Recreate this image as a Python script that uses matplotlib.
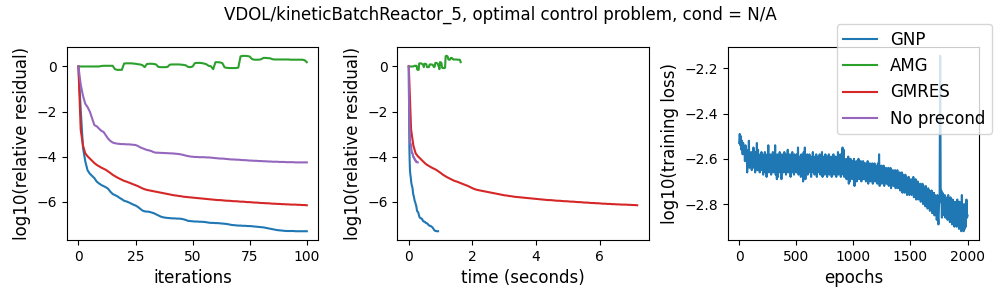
import numpy as np
import matplotlib
matplotlib.use("Agg")
import matplotlib.pyplot as plt
from matplotlib.ticker import MultipleLocator

title = "VDOL/kineticBatchReactor_5, optimal control problem, cond = N/A"
methods = ["GNP", "AMG", "GMRES", "No precond"]
colors = ["tab:blue", "tab:green", "tab:red", "tab:purple"]

# log10 relative residual per iteration (0..100)
gnp = [0, -1.9, -3.6, -4.2, -4.6, -4.75, -4.85, -4.95, -5.1, -5.18,
       -5.25, -5.3, -5.35, -5.42, -5.55, -5.65, -5.7, -5.75, -5.82, -5.88,
       -5.95, -5.98, -6.02, -6.07, -6.12, -6.16, -6.22, -6.3, -6.38, -6.42,
       -6.43, -6.44, -6.47, -6.5, -6.55, -6.6, -6.65, -6.68, -6.7, -6.71,
       -6.72, -6.73, -6.73, -6.74, -6.74, -6.75, -6.77, -6.8, -6.84, -6.85,
       -6.86, -6.87, -6.87, -6.88, -6.88, -6.89, -6.9, -6.92, -6.93, -6.93,
       -6.94, -6.94, -6.95, -6.96, -6.97, -6.98, -7.0, -7.02, -7.03, -7.04,
       -7.05, -7.05, -7.06, -7.06, -7.07, -7.07, -7.08, -7.09, -7.1, -7.11,
       -7.12, -7.13, -7.15, -7.17, -7.19, -7.21, -7.23, -7.25, -7.26, -7.27,
       -7.28, -7.29, -7.29, -7.29, -7.29, -7.3, -7.3, -7.3, -7.3, -7.3, -7.3]
amg = [0, 0, 0, 0, 0, 0, 0, 0, 0, 0,
       0.02, 0.03, 0.03, 0.03, 0.03, 0.03,
       -0.12, -0.15, -0.15, -0.15,
       0.13, 0.14, 0.14, 0.14, 0.13, 0.12, 0.10, 0.09, 0.06,
       -0.03,
       0.11, 0.12, 0.12, 0.11, 0.09,
       -0.02, -0.03, -0.03, -0.03, -0.02,
       0.08, 0.09, 0.09, 0.09, 0.09, 0.08, 0.07, 0.05,
       -0.02, -0.03, 0.0,
       0.15, 0.16, 0.16, 0.15, 0.13, 0.10,
       0.03, 0.01, -0.12,
       0.19, 0.19, 0.18, 0.15,
       -0.04, -0.06, -0.07, -0.07, -0.07, -0.07, -0.05,
       0.45, 0.47, 0.47, 0.46, 0.44,
       0.33, 0.30, 0.30, 0.30, 0.32,
       0.38, 0.38, 0.37, 0.36,
       0.32, 0.31, 0.31, 0.31, 0.31, 0.31, 0.31, 0.31, 0.30, 0.30,
       0.30, 0.30, 0.30, 0.30, 0.28,
       0.19]
gmres = [0, -2.8, -3.5, -3.85, -3.98, -4.08, -4.18, -4.28, -4.36, -4.42,
         -4.48, -4.53, -4.58, -4.65, -4.72, -4.8, -4.86, -4.92, -4.97, -5.02,
         -5.07, -5.1, -5.14, -5.18, -5.22, -5.26, -5.3, -5.35, -5.4, -5.44,
         -5.47, -5.49, -5.51, -5.53, -5.55, -5.57, -5.59, -5.61, -5.63, -5.65,
         -5.67, -5.69, -5.71, -5.72, -5.74, -5.75, -5.77, -5.78, -5.79, -5.8,
         -5.81, -5.82, -5.83, -5.84, -5.85, -5.86, -5.87, -5.88, -5.89, -5.9,
         -5.91, -5.92, -5.92, -5.93, -5.94, -5.95, -5.95, -5.96, -5.97, -5.97,
         -5.98, -5.99, -5.99, -6.0, -6.01, -6.01, -6.02, -6.03, -6.03, -6.04,
         -6.05, -6.05, -6.06, -6.06, -6.07, -6.08, -6.08, -6.09, -6.09, -6.1,
         -6.1, -6.11, -6.11, -6.12, -6.12, -6.12, -6.13, -6.13, -6.14, -6.14, -6.15]
noprec = [0, -0.8, -1.3, -1.65, -1.8, -2.0, -2.3, -2.6, -2.65, -2.75,
          -2.85, -2.9, -3.05, -3.2, -3.3, -3.37, -3.4, -3.42, -3.43, -3.44,
          -3.44, -3.45, -3.45, -3.46, -3.47, -3.48, -3.52, -3.58, -3.62, -3.66,
          -3.7, -3.72, -3.75, -3.8, -3.82, -3.82, -3.83, -3.83, -3.84, -3.84,
          -3.85, -3.85, -3.86, -3.87, -3.88, -3.9, -3.92, -3.95, -3.97, -3.99,
          -4.0, -4.01, -4.01, -4.02, -4.02, -4.02, -4.03, -4.03, -4.04, -4.05,
          -4.06, -4.07, -4.08, -4.08, -4.09, -4.1, -4.11, -4.12, -4.12, -4.13,
          -4.13, -4.14, -4.15, -4.15, -4.16, -4.17, -4.17, -4.18, -4.18, -4.19,
          -4.19, -4.2, -4.2, -4.21, -4.21, -4.22, -4.22, -4.22, -4.23, -4.23,
          -4.23, -4.24, -4.24, -4.24, -4.24, -4.25, -4.25, -4.25, -4.25, -4.25, -4.25]

# wall-clock seconds per iteration for each method
sec_per_iter = [0.0092, 0.0163, 0.0718, 0.0028]

# log10 training loss, sampled every 5 epochs
loss_epoch_step = 5
loss = [
    -2.53, -2.49, -2.54, -2.50, -2.56, -2.52, -2.58, -2.53, -2.57, -2.55, -2.61, -2.54, -2.60, -2.56, -2.66, -2.57, -2.62, -2.52, -2.64, -2.58,
    -2.63, -2.57, -2.65, -2.58, -2.62, -2.55, -2.64, -2.59, -2.66, -2.57, -2.63, -2.53, -2.65, -2.56, -2.64, -2.60, -2.66, -2.58, -2.63, -2.57,
    -2.65, -2.58, -2.67, -2.59, -2.64, -2.57, -2.66, -2.60, -2.68, -2.58, -2.64, -2.54, -2.66, -2.59, -2.65, -2.58, -2.67, -2.60, -2.64, -2.57,
    -2.66, -2.59, -2.65, -2.54, -2.67, -2.60, -2.69, -2.58, -2.68, -2.59, -2.65, -2.57, -2.66, -2.60, -2.69, -2.58, -2.64, -2.59, -2.66, -2.57,
    -2.65, -2.58, -2.67, -2.60, -2.64, -2.56, -2.66, -2.59, -2.65, -2.58, -2.68, -2.60, -2.64, -2.57, -2.66, -2.59, -2.67, -2.58, -2.65, -2.60,
    -2.66, -2.58, -2.65, -2.55, -2.67, -2.59, -2.64, -2.60, -2.68, -2.58, -2.66, -2.59, -2.70, -2.57, -2.67, -2.55, -2.69, -2.59, -2.65, -2.58,
    -2.67, -2.60, -2.65, -2.58, -2.66, -2.59, -2.68, -2.60, -2.64, -2.57, -2.66, -2.59, -2.67, -2.60, -2.65, -2.58, -2.68, -2.60, -2.66, -2.59,
    -2.65, -2.58, -2.67, -2.60, -2.66, -2.57, -2.68, -2.59, -2.65, -2.60, -2.67, -2.58, -2.66, -2.60, -2.68, -2.59, -2.65, -2.58, -2.67, -2.60,
    -2.66, -2.59, -2.68, -2.60, -2.65, -2.58, -2.67, -2.61, -2.66, -2.59, -2.68, -2.60, -2.65, -2.57, -2.67, -2.60, -2.66, -2.58, -2.68, -2.61,
    -2.66, -2.55, -2.67, -2.56, -2.68, -2.60, -2.66, -2.61, -2.69, -2.60, -2.67, -2.59, -2.71, -2.61, -2.70, -2.60, -2.67, -2.62, -2.69, -2.61,
    -2.68, -2.60, -2.72, -2.62, -2.67, -2.61, -2.70, -2.62, -2.68, -2.60, -2.69, -2.62, -2.67, -2.61, -2.70, -2.63, -2.68, -2.61, -2.69, -2.62,
    -2.69, -2.62, -2.70, -2.63, -2.68, -2.61, -2.71, -2.63, -2.69, -2.62, -2.70, -2.64, -2.68, -2.62, -2.71, -2.63, -2.69, -2.62, -2.70, -2.64,
    -2.70, -2.63, -2.71, -2.62, -2.69, -2.58, -2.72, -2.64, -2.70, -2.63, -2.71, -2.64, -2.69, -2.63, -2.72, -2.65, -2.70, -2.64, -2.71, -2.65,
    -2.71, -2.64, -2.72, -2.65, -2.70, -2.64, -2.73, -2.66, -2.71, -2.65, -2.72, -2.66, -2.70, -2.65, -2.73, -2.66, -2.72, -2.65, -2.73, -2.67,
    -2.72, -2.66, -2.74, -2.67, -2.73, -2.66, -2.75, -2.67, -2.73, -2.68, -2.75, -2.67, -2.74, -2.68, -2.76, -2.69, -2.74, -2.68, -2.76, -2.70,
    -2.75, -2.69, -2.76, -2.70, -2.75, -2.68, -2.77, -2.70, -2.76, -2.69, -2.78, -2.71, -2.76, -2.70, -2.78, -2.72, -2.77, -2.71, -2.79, -2.72,
    -2.78, -2.71, -2.80, -2.72, -2.79, -2.73, -2.81, -2.72, -2.80, -2.74, -2.82, -2.73, -2.81, -2.74, -2.83, -2.75, -2.82, -2.74, -2.84, -2.76,
    -2.83, -2.75, -2.85, -2.76, -2.84, -2.77, -2.87, -2.76, -2.85, -2.89, -2.80, -2.78, -2.145, -2.79, -2.74, -2.86, -2.75, -2.84, -2.77, -2.85,
    -2.76, -2.86, -2.77, -2.85, -2.78, -2.87, -2.76, -2.86, -2.79, -2.88, -2.77, -2.87, -2.80, -2.89, -2.78, -2.88, -2.81, -2.90, -2.79, -2.89,
    -2.80, -2.90, -2.78, -2.89, -2.81, -2.91, -2.79, -2.90, -2.82, -2.92, -2.76, -2.91, -2.83, -2.92, -2.80, -2.91, -2.84, -2.90, -2.78, -2.86,
    -2.85]

residuals = [gnp, amg, gmres, noprec]

fig, axes = plt.subplots(1, 3, figsize=(10, 3), dpi=100)
fig.subplots_adjust(left=0.067, right=0.979, bottom=0.2, top=0.843, wspace=0.315)
ax1, ax2, ax3 = axes

lines = []
for name, col, res, spi in zip(methods, colors, residuals, sec_per_iter):
    it = np.arange(len(res))
    ln, = ax1.plot(it, res, color=col, label=name)
    lines.append(ln)
    ax2.plot(it * spi, res, color=col)

ax1.xaxis.set_major_locator(MultipleLocator(25))
ax1.set_xlabel("iterations", fontsize=12)
ax1.set_ylabel("log10(relative residual)", fontsize=12)
ax2.set_xlabel("time (seconds)", fontsize=12)
ax2.set_ylabel("log10(relative residual)", fontsize=12)

ep = np.arange(len(loss)) * loss_epoch_step
ax3.plot(ep, loss, color="tab:blue")
ax3.set_xlabel("epochs", fontsize=12)
ax3.set_ylabel("log10(training loss)", fontsize=12)

fig.suptitle(title, fontsize=12)
fig.legend(lines, methods, loc="upper right", bbox_to_anchor=(0.992, 0.92),
           borderaxespad=0, fontsize=12)

fig.savefig("out.png", dpi=100)
